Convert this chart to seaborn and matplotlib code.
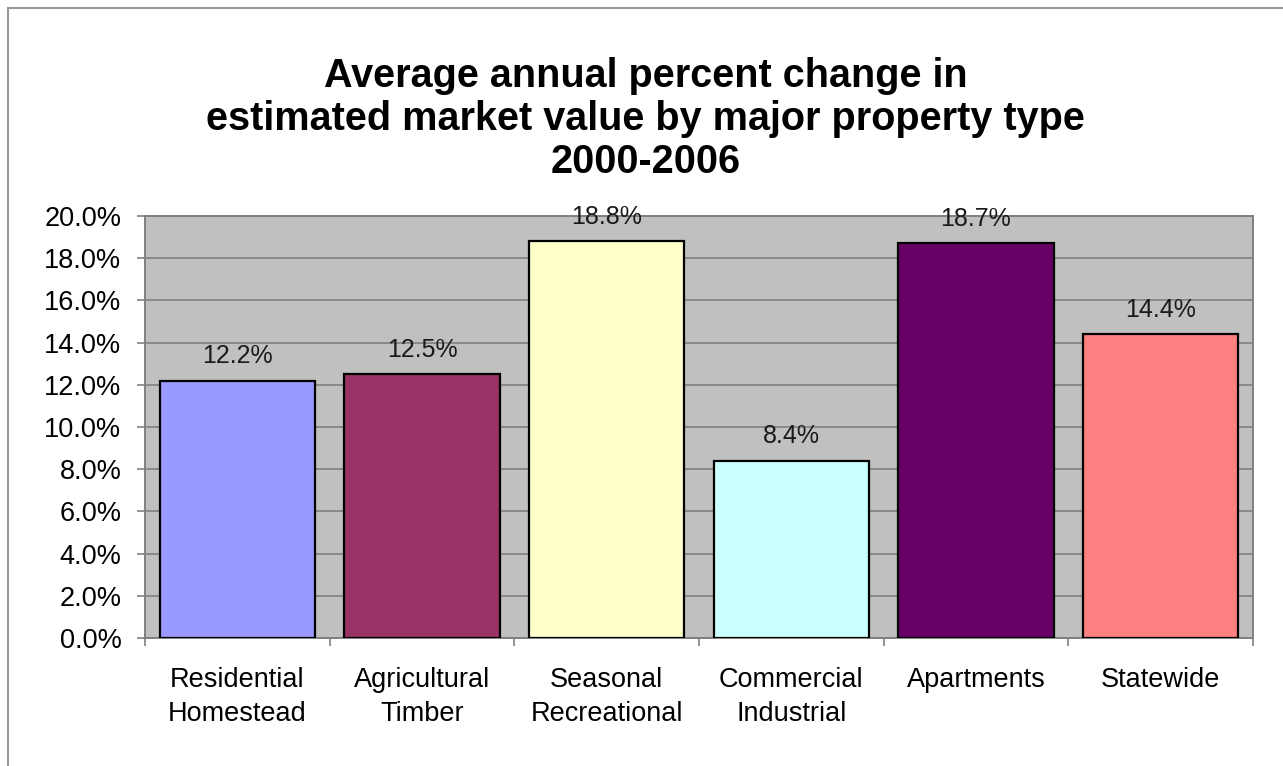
import matplotlib
matplotlib.use("Agg")
import matplotlib.pyplot as plt
import seaborn as sns
import pandas as pd
import numpy as np
from matplotlib.patches import Rectangle
from matplotlib.ticker import MultipleLocator, FuncFormatter, FixedLocator

categories = ["Residential\nHomestead", "Agricultural\nTimber", "Seasonal\nRecreational",
              "Commercial\nIndustrial", "Apartments", "Statewide"]
values = [12.2, 12.5, 18.8, 8.4, 18.7, 14.4]
colors = ["#9999FF", "#993366", "#FFFFCC", "#CCFFFF", "#660066", "#FF8080"]
title = "Average annual percent change in\nestimated market value by major property type\n2000-2006"

sns.set_theme(style="white")
plt.rcParams['font.family'] = ['Liberation Sans', 'DejaVu Sans']

df = pd.DataFrame({"cat": categories, "val": values})

fig = plt.figure(figsize=(12.83, 7.66), dpi=100)
ax = fig.add_axes([145/1283, 1-638/766, (1253-145)/1283, (638-216)/766])
ax.set_facecolor("#C0C0C0")

sns.barplot(data=df, x="cat", y="val", hue="cat", palette=colors, legend=False,
            saturation=1, width=0.84, edgecolor="black", linewidth=1.6, ax=ax, zorder=3)

ax.set_ylim(0, 20)
ax.set_xlim(-0.5, len(categories) - 0.5)
ax.yaxis.set_major_locator(MultipleLocator(2))
ax.yaxis.set_major_formatter(FuncFormatter(lambda v, p: f"{v:.1f}%"))
ax.grid(axis="y", color="#808080", linewidth=1.2, zorder=0)
ax.set_axisbelow(True)
for s in ax.spines.values():
    s.set_color("#808080")
    s.set_linewidth(1.4)

ax.tick_params(axis="y", which="major", direction="out", length=6, width=1.2,
               color="#808080", labelsize=19.5, labelcolor="black", left=True, pad=11)
ax.tick_params(axis="x", which="major", length=0, labelsize=19.5, labelcolor="black", pad=21)
ax.xaxis.set_minor_locator(FixedLocator(np.arange(-0.5, len(categories), 1.0)))
ax.tick_params(axis="x", which="minor", direction="out", length=6, width=1.2,
               color="#808080", bottom=True)
ax.set_xlabel("")
ax.set_ylabel("")
for lbl in ax.get_xticklabels():
    lbl.set_linespacing(1.37)

for i, v in enumerate(values):
    ax.annotate(f"{v:.1f}%", (i, v), xytext=(0, 9), textcoords="offset points",
                ha="center", va="bottom", fontsize=18, color="#1a1a1a")

fig.text(0.503, 1-119/766, title, ha="center", va="center", fontsize=28.5,
         fontweight="bold", linespacing=1.18, color="black")

fig.patches.append(Rectangle((8/1283, -0.1), 1.2, 1-8/766+0.1, transform=fig.transFigure,
                             fill=False, edgecolor="#999999", linewidth=1.5))

fig.savefig("out.png", dpi=100)
